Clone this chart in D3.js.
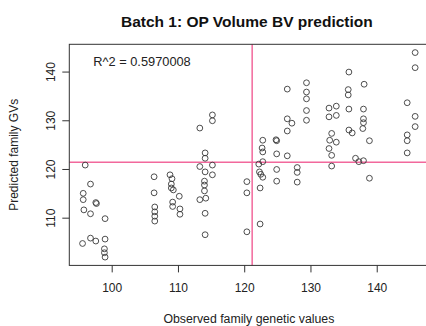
<!DOCTYPE html>
<html>
<head>
<meta charset="utf-8">
<script src="https://cdn.jsdelivr.net/npm/d3@7"></script>
<style>
  body { margin: 0; background: #fff; }
  svg { display: block; font-family: "Liberation Sans", Arial, Helvetica, sans-serif; }
</style>
</head>
<body>
<div id="chart"></div>
<script>
// observed family genetic values (x) and predicted family GVs (y)
var observed = [
  96.0, 96.8, 95.7, 95.7, 97.6, 97.7, 95.8, 96.8, 99.0, 95.6, 96.8, 97.6, 99.0, 98.9, 98.9, 99.0,
  106.4, 106.4, 106.5, 106.5, 106.5, 106.5, 108.8, 109.1, 109.0, 109.0, 109.3, 109.2, 109.2, 110.2, 110.3, 110.3,
  115.2, 115.2, 113.3, 114.1, 114.1, 113.3, 115.2, 114.1, 115.2, 114.0, 114.0, 114.0, 113.3, 114.2, 114.1, 114.1,
  120.4, 120.4, 120.4,
  122.8, 122.7, 122.8, 122.8, 122.2, 122.3, 122.5, 122.8, 122.4, 122.4,
  124.8, 124.9, 124.9, 124.9, 124.9,
  126.5, 126.5, 127.2, 126.5, 126.5,
  128.0, 128.0, 128.0,
  129.4, 129.4, 129.4, 129.4, 129.4,
  132.8, 133.9, 132.8, 133.9, 133.2, 132.9, 133.9, 132.8, 133.2, 133.2,
  135.8, 135.7, 135.7, 135.8, 135.8, 136.3, 136.8, 137.3, 138.0,
  138.1, 138.0, 138.0, 138.0, 137.9, 138.9, 138.9,
  145.8, 145.8, 144.6, 145.8, 145.8, 144.6, 144.6, 144.6
];
var predicted = [
  120.8, 116.9, 115.0, 113.7, 113.1, 112.9, 111.6, 110.8, 109.8, 104.7, 105.8, 105.2, 105.6, 103.6, 102.8, 101.9,
  118.4, 115.1, 112.2, 111.2, 110.3, 109.3, 118.8, 118.0, 116.9, 116.1, 115.7, 113.2, 112.3, 114.4, 111.8, 110.7,
  131.1, 129.9, 128.4, 123.3, 122.2, 120.5, 120.8, 119.4, 118.8, 117.5, 116.7, 115.5, 113.7, 114.0, 110.9, 106.5,
  117.4, 115.1, 107.1,
  125.9, 124.3, 123.5, 121.5, 121.0, 119.4, 118.9, 118.3, 116.1, 108.7,
  126.0, 125.8, 123.1, 119.9, 117.5,
  136.4, 130.3, 129.4, 127.8, 122.7,
  120.3, 119.3, 117.3,
  137.7, 135.8, 134.4, 132.0, 130.0,
  132.5, 132.9, 130.7, 131.0, 127.3, 125.9, 125.5, 124.2, 122.8, 120.6,
  139.9, 136.3, 135.2, 132.3, 128.0, 127.4, 122.2, 121.5, 121.7,
  137.4, 132.3, 130.3, 129.5, 128.3, 125.8, 118.1,
  143.9, 140.8, 133.6, 130.8, 128.7, 127.0, 125.8, 123.3
];
var xTicks = [100, 110, 120, 130, 140];
var yTicks = [110, 120, 130, 140];
var meanObserved = 121.2;
var meanPredicted = 121.4;
var titleText = "Batch 1: OP Volume BV prediction";
var rsqText = "R^2 = 0.5970008";
var xLabel = "Observed family genetic values";
var yLabel = "Predicted family GVs";

var W = 426, H = 326;
var margin = {top: 44.3, right: -2.4, bottom: 60.6, left: 69.3};
var width = W - margin.left - margin.right,
    height = H - margin.top - margin.bottom;

var svg = d3.select("#chart").append("svg")
    .attr("width", W)
    .attr("height", H);

var g = svg.append("g")
    .attr("transform", "translate(" + margin.left + "," + margin.top + ")");

// R style 4% padding around the data range
var x = d3.scaleLinear().domain([93.6, 147.8]).range([0, width]);
var y = d3.scaleLinear().domain([100.2, 145.6]).range([height, 0]);

// mean lines
g.append("line")
    .attr("x1", 0).attr("x2", width)
    .attr("y1", y(meanPredicted)).attr("y2", y(meanPredicted))
    .attr("stroke", "#f2689c").attr("stroke-width", 1.5);
g.append("line")
    .attr("x1", x(meanObserved)).attr("x2", x(meanObserved))
    .attr("y1", 0).attr("y2", height)
    .attr("stroke", "#f2689c").attr("stroke-width", 1.5);

// points
var pts = observed.map(function (d, i) { return {x: d, y: predicted[i]}; });
g.selectAll("circle.pt")
    .data(pts)
    .enter()
    .append("circle")
    .attr("class", "pt")
    .attr("cx", function (d) { return x(d.x); })
    .attr("cy", function (d) { return y(d.y); })
    .attr("r", 2.9)
    .attr("fill", "none")
    .attr("stroke", "#3a3a3a")
    .attr("stroke-width", 0.9);

// box
g.append("rect")
    .attr("x", 0).attr("y", 0)
    .attr("width", width).attr("height", height)
    .attr("fill", "none")
    .attr("stroke", "#333")
    .attr("stroke-width", 1);

// x axis
var xAxis = g.append("g")
    .attr("transform", "translate(0," + height + ")")
    .call(d3.axisBottom(x).tickValues(xTicks).tickSize(7).tickPadding(11));
xAxis.select(".domain").remove();
xAxis.selectAll("line").attr("stroke", "#333");
xAxis.selectAll("text")
    .attr("font-size", 12)
    .attr("font-family", "Liberation Sans, Arial, sans-serif")
    .attr("fill", "#222");

// y axis, labels parallel to the axis
var yAxis = g.append("g")
    .call(d3.axisLeft(y).tickValues(yTicks).tickSize(7));
yAxis.select(".domain").remove();
yAxis.selectAll("line").attr("stroke", "#333");
yAxis.selectAll("text")
    .attr("x", 0)
    .attr("y", -19)
    .attr("dy", "0.35em")
    .attr("transform", "rotate(-90)")
    .attr("text-anchor", "middle")
    .attr("font-size", 12)
    .attr("font-family", "Liberation Sans, Arial, sans-serif")
    .attr("fill", "#222");

// R^2 annotation
g.append("text")
    .attr("x", 24)
    .attr("y", 21.5)
    .attr("font-size", 12.8)
    .attr("fill", "#222")
    .text(rsqText);

// title
svg.append("text")
    .attr("x", margin.left + width / 2 - 2)
    .attr("y", 27)
    .attr("text-anchor", "middle")
    .attr("font-size", 15.5)
    .attr("font-weight", "bold")
    .attr("fill", "#111")
    .text(titleText);

// axis titles
svg.append("text")
    .attr("x", margin.left + width / 2)
    .attr("y", 323)
    .attr("text-anchor", "middle")
    .attr("font-size", 12.3)
    .attr("fill", "#222")
    .text(xLabel);

svg.append("text")
    .attr("transform", "translate(18," + (margin.top + height / 2) + ") rotate(-90)")
    .attr("text-anchor", "middle")
    .attr("font-size", 12)
    .attr("fill", "#222")
    .text(yLabel);
</script>
</body>
</html>
